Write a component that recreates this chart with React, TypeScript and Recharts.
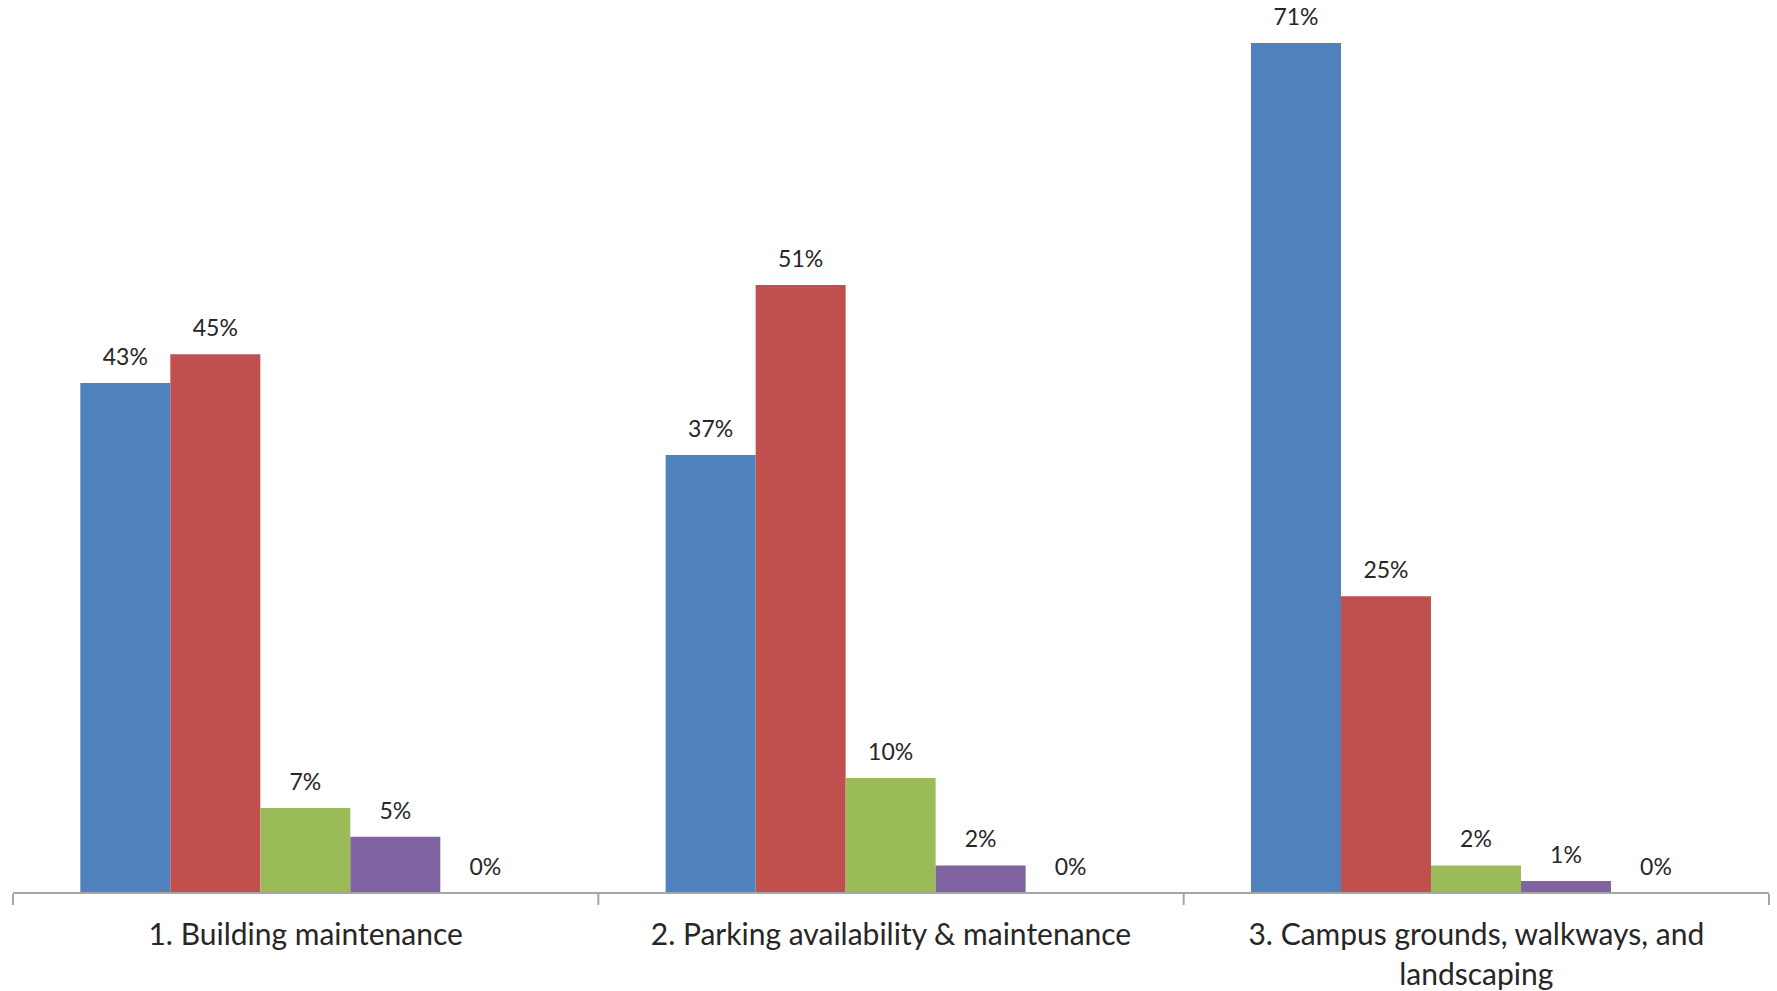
import { BarChart, Bar, XAxis, YAxis, LabelList } from "recharts";

// survey categories along the x axis
const categories = [
  "1. Building maintenance",
  "2. Parking availability & maintenance",
  "3. Campus grounds, walkways, and landscaping",
];

// how each category label wraps under the axis
const categoryLines = [
  ["1. Building maintenance"],
  ["2. Parking availability & maintenance"],
  ["3. Campus grounds, walkways, and", "landscaping"],
];

// five response series, percentages per category (labels are rounded)
const series1 = [42.6, 36.6, 71];
const series2 = [45, 50.8, 24.8];
const series3 = [7.1, 9.6, 2.3];
const series4 = [4.7, 2.3, 1.0];
const series5 = [0, 0, 0];

// category boundaries used for the divider ticks under the axis
const edgeTicks = [0, 1, 2, 3];

const seriesKeys = ["s1", "s2", "s3", "s4", "s5"];
const seriesColors = ["#4F81BD", "#C0504D", "#9BBB59", "#8064A2", "#4BACC6"];

const data = categories.map((name, i) => ({
  name,
  pos: i + 0.5, // category centre on the boundary axis
  s1: series1[i],
  s2: series2[i],
  s3: series3[i],
  s4: series4[i],
  s5: series5[i],
}));

const FONT = "Lato, 'Open Sans', sans-serif";

function CategoryTick(props: any) {
  const { x, y, index } = props;
  const lines = categoryLines[index] || [];
  return (
    <text x={x} y={y + 52} textAnchor="middle" fontSize={30} fontFamily={FONT} fill="#262626">
      {lines.map((line, i) => (
        <tspan key={i} x={x} dy={i === 0 ? 0 : 40}>
          {line}
        </tspan>
      ))}
    </text>
  );
}

export default function App() {
  return (
    <div style={{ position: "absolute", left: 0, top: 0, width: 1777, height: 991, background: "#fff" }}>
      <BarChart
        width={1777}
        height={991}
        data={data}
        margin={{ top: 0, right: 8, bottom: 96, left: 13 }}
        barCategoryGap="11.5%"
        barGap={0}
      >
        <XAxis
          xAxisId="edge"
          dataKey="pos"
          type="number"
          domain={[0, 3]}
          allowDataOverflow
          ticks={edgeTicks}
          interval={0}
          height={1}
          axisLine={false}
          tickSize={11}
          tickLine={{ stroke: "#a6a6a6", strokeWidth: 2 }}
          tick={() => <g />}
        />
        <XAxis
          dataKey="name"
          height={1}
          tickSize={0}
          tickMargin={0}
          axisLine={{ stroke: "#a6a6a6", strokeWidth: 2 }}
          tickLine={false}
          tick={<CategoryTick />}
          interval={0}
        />
        <YAxis hide domain={[0, 74.6]} />
        {seriesKeys.map((k, i) => (
          <Bar
            key={k}
            dataKey={k}
            fill={seriesColors[i]}
            minPointSize={(v: any) => (v === 0 ? 0.01 : 0)}
            isAnimationActive={false}
          >
            <LabelList
              dataKey={k}
              position="top"
              offset={18}
              formatter={(v: any) => `${Math.round(Number(v))}%`}
              style={{ fill: "#262626", fontSize: 23, fontFamily: FONT }}
            />
          </Bar>
        ))}
      </BarChart>
    </div>
  );
}
